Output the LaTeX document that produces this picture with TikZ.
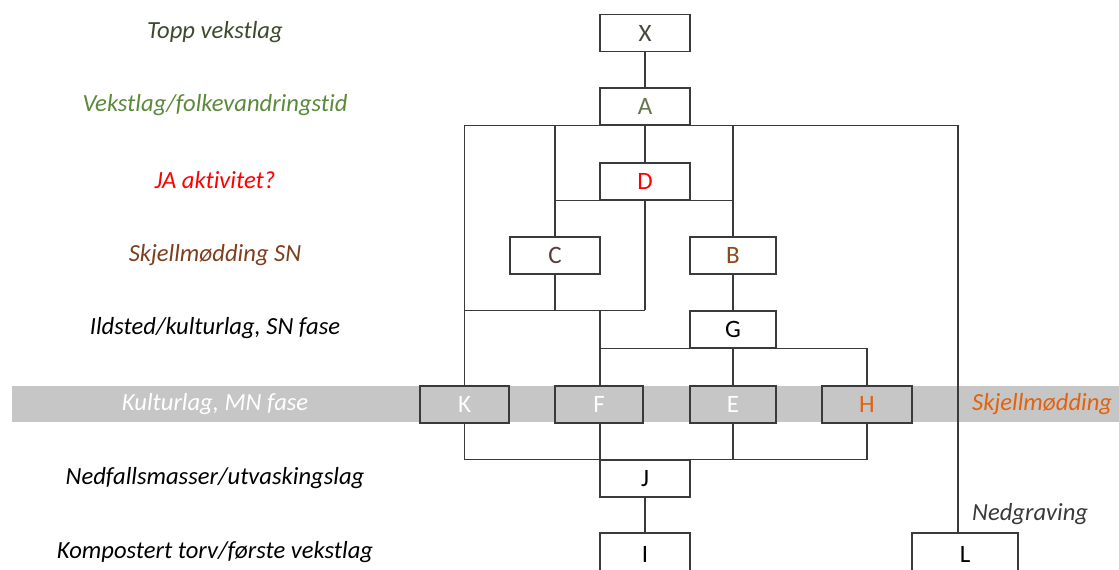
\documentclass[tikz,border=0pt]{standalone}
\usepackage{fontspec}
\setmainfont{Carlito}[Ligatures=NoCommon]
\definecolor{linec}{HTML}{3A3A3A}
\definecolor{bandgray}{HTML}{C6C6C6}
\definecolor{oliveDark}{HTML}{3E4A2E}
\definecolor{oliveMid}{HTML}{5B8A3C}
\definecolor{shellBrown}{HTML}{7F3F1F}
\definecolor{shellOrange}{HTML}{E2620E}
\definecolor{letterX}{HTML}{454A3C}
\definecolor{letterA}{HTML}{66744E}
\definecolor{letterC}{HTML}{5C3A3A}
\definecolor{letterB}{HTML}{8A4A1A}
\newcommand{\boxfont}{\fontsize{25}{29}\selectfont}
\newcommand{\labfont}{\fontsize{24.6}{28}\selectfont\itshape}
\tikzset{
  box/.style={draw=linec, line width=1.2pt, minimum width=90pt, minimum height=37pt,
              inner sep=0pt, font=\boxfont},
  layerbox/.style={box, fill=bandgray},
  lab/.style={anchor=base, inner sep=0pt, font=\labfont},
  rlab/.style={anchor=base west, inner sep=0pt, font=\labfont},
  link/.style={draw=linec, line width=1.2pt}
}
\begin{document}
\begin{tikzpicture}[x=1pt, y=-1pt]
\useasboundingbox (0,0) rectangle (1119,570);
\fill[white] (0,0) rectangle (1119,570);

% grey band for the middle Neolithic layer
\fill[bandgray] (12,386) rectangle (1119,422);

% layer names on the left
\node[lab, text=oliveDark]  (t1) at (215,38)  {Topp vekstlag};
\node[lab, text=oliveMid]   (t2) at (215,111) {Vekstlag/folkevandringstid};
\node[lab, text=red]        (t3) at (215,188) {JA aktivitet?};
\node[lab, text=shellBrown] (t4) at (215,261) {Skjellmødding SN};
\node[lab, text=black]      (t5) at (215,334) {Ildsted/kulturlag, SN fase};
\node[lab, text=white]      (t6) at (215,410) {Kulturlag, MN fase};
\node[lab, text=black]      (t7) at (215,484) {Nedfallsmasser/utvaskingslag};
\node[lab, text=black]      (t8) at (215,558) {Kompostert torv/første vekstlag};

% labels on the right
\node[rlab, text=shellOrange] (r1) at (972,410) {Skjellmødding};
\node[rlab, text=linec]       (r2) at (972,520) {Nedgraving};

% units
\node[box, text=letterX] (X) at (645,33)  {X};
\node[box, text=letterA] (A) at (645,106.5) {A};
\node[box, text=red]     (D) at (645,181.5) {D};
\node[box, text=letterC] (C) at (555,255.5) {C};
\node[box, text=letterB, minimum width=86pt] (B) at (733,255.5) {B};
\node[box, text=black,   minimum width=86pt] (G) at (733,329.5) {G};
\node[layerbox, text=white, minimum width=89pt] (K) at (464.5,404.5) {K};
\node[layerbox, text=white, minimum width=88pt] (F) at (599,404.5) {F};
\node[layerbox, text=white, minimum width=86pt] (E) at (733,404.5) {E};
\node[layerbox, text=shellOrange] (H) at (867,404.5) {H};
\node[box, text=black] (J) at (645,478.5) {J};
\node[box, text=black, minimum height=42pt] (I) at (645,554) {I};
\node[box, text=black, minimum width=106pt, minimum height=42pt] (L) at (965,554) {L};
\coordinate (Ltop) at (958,533);

% stratigraphic links
\draw[link] (X.south) -- (A.north);
\draw[link] (K.north) -- (K.north |- A.south) -- (Ltop |- A.south) -- (Ltop);
\draw[link] (A.south) -- (D.north);
\draw[link] (C.north) -- (C.north |- A.south);
\draw[link] (B.north) -- (B.north |- A.south);
\draw[link] (C.north |- D.south) -- (B.north |- D.south);
\draw[link] (D.south) -- (D.south |- G.north);
\draw[link] (C.south) -- (C.south |- G.north);
\draw[link] (K.north |- G.north) -- (D.south |- G.north);
\draw[link] (B.south) -- (G.north);
\draw[link] ([xshift=1pt]F.north) -- ([xshift=1pt]F.north |- G.north);
\draw[link] ([xshift=1pt]F.north |- G.south) -- (H.north |- G.south) -- (H.north);
\draw[link] (G.south) -- (E.north);
\draw[link] (K.south) -- (K.south |- J.north) -- (H.south |- J.north) -- (H.south);
\draw[link] ([xshift=1pt]F.south) -- ([xshift=1pt]F.south |- J.north);
\draw[link] (E.south) -- (E.south |- J.north);
\draw[link] (J.south) -- (I.north);
\end{tikzpicture}
\end{document}
